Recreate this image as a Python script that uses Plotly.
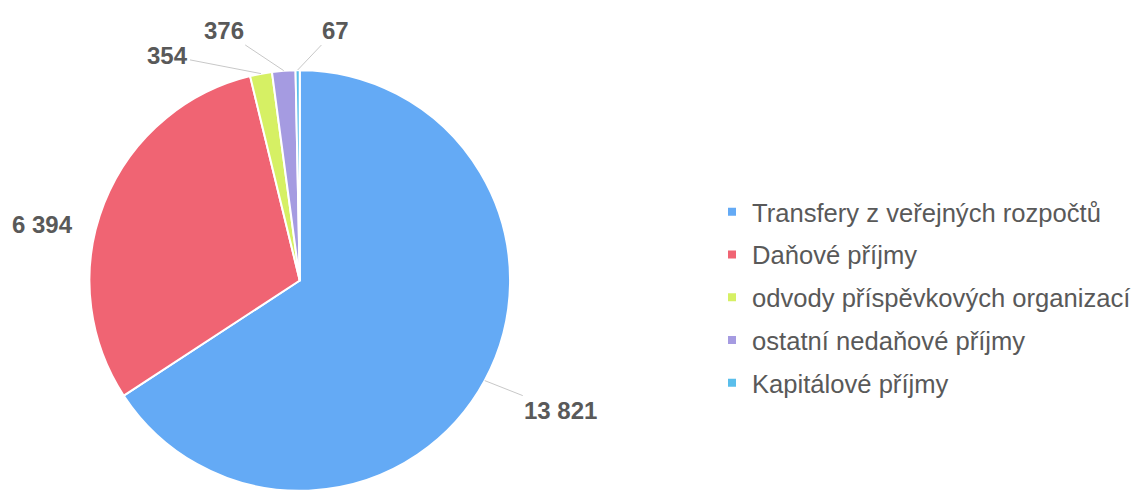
import math
import plotly.graph_objects as go

# ---- data ----
categories = [
    "Transfery z veřejných rozpočtů",
    "Daňové příjmy",
    "odvody příspěvkových organizací",
    "ostatní nedaňové příjmy",
    "Kapitálové příjmy",
]
values = [13821, 6394, 354, 376, 67]
colors = ["#64AAF5", "#F06473", "#D6F064", "#A59BE1", "#5ABEEB"]

# ---- layout constants ----
W, H = 1136, 491
dom_x = [0.0788, 0.4494]
dom_y = [0.0, 0.8574]
text_color = "#595959"
font_family = "Arial, Liberation Sans, sans-serif"

# label offsets (pixels, y down) from slice mid-edge; flag => leader line
label_offsets = [(76, 30, True), (-62, 21, False), (-93, -18, True), (-60, -40, True), (38, -40, True)]

fig = go.Figure()
fig.add_trace(go.Pie(
    labels=categories,
    values=values,
    sort=False,
    direction="clockwise",
    rotation=0,
    textinfo="none",
    hoverinfo="label+value",
    marker=dict(colors=colors, line=dict(color="white", width=2)),
    domain=dict(x=dom_x, y=dom_y),
    showlegend=False,
))

# legend entries (spaced like the reference)
for name, c in zip(categories, colors):
    fig.add_trace(go.Scatter(
        x=[None], y=[None], mode="markers",
        marker=dict(symbol="square", size=8, color=c),
        name=name, legendgroup=name, showlegend=True, hoverinfo="skip",
    ))

# value labels placed from slice geometry
cx = (dom_x[0] + dom_x[1]) / 2 * W
cy = (dom_y[0] + dom_y[1]) / 2 * H
r = min((dom_x[1] - dom_x[0]) * W, (dom_y[1] - dom_y[0]) * H) / 2
total = sum(values)
cum = 0.0
label_font = dict(family=font_family, size=24, color=text_color)
for v, (dx, dy, arrow) in zip(values, label_offsets):
    mid = (cum + v / 2) / total * 2 * math.pi
    cum += v
    px = cx + r * math.sin(mid)
    py = cy + r * math.cos(mid)
    txt = "<b>" + f"{v:,}".replace(",", " ") + "</b>"
    if arrow:
        fig.add_annotation(
            x=px / W, y=py / H, xref="paper", yref="paper",
            text=txt, showarrow=True, arrowhead=0, arrowwidth=1,
            arrowcolor="#C8C8C8", ax=dx, ay=dy, standoff=0,
            font=label_font,
        )
    else:
        fig.add_annotation(
            x=px / W, y=py / H, xref="paper", yref="paper",
            xanchor="center", yanchor="middle",
            text=txt, showarrow=False, xshift=dx, yshift=-dy,
            font=label_font,
        )

fig.update_layout(
    width=W, height=H,
    margin=dict(l=0, r=0, t=0, b=0),
    paper_bgcolor="white", plot_bgcolor="white",
    xaxis=dict(visible=False), yaxis=dict(visible=False),
    font=dict(family=font_family, color=text_color),
    legend=dict(
        x=0.6275, y=0.616, xanchor="left", yanchor="top",
        font=dict(family=font_family, size=25.6, color=text_color),
        tracegroupgap=6.5, itemclick=False, itemdoubleclick=False,
        bgcolor="rgba(0,0,0,0)",
    ),
)

fig.write_html(
    "out.html",
    config={"displayModeBar": False},
    post_script="document.body.style.margin='0';",
)
